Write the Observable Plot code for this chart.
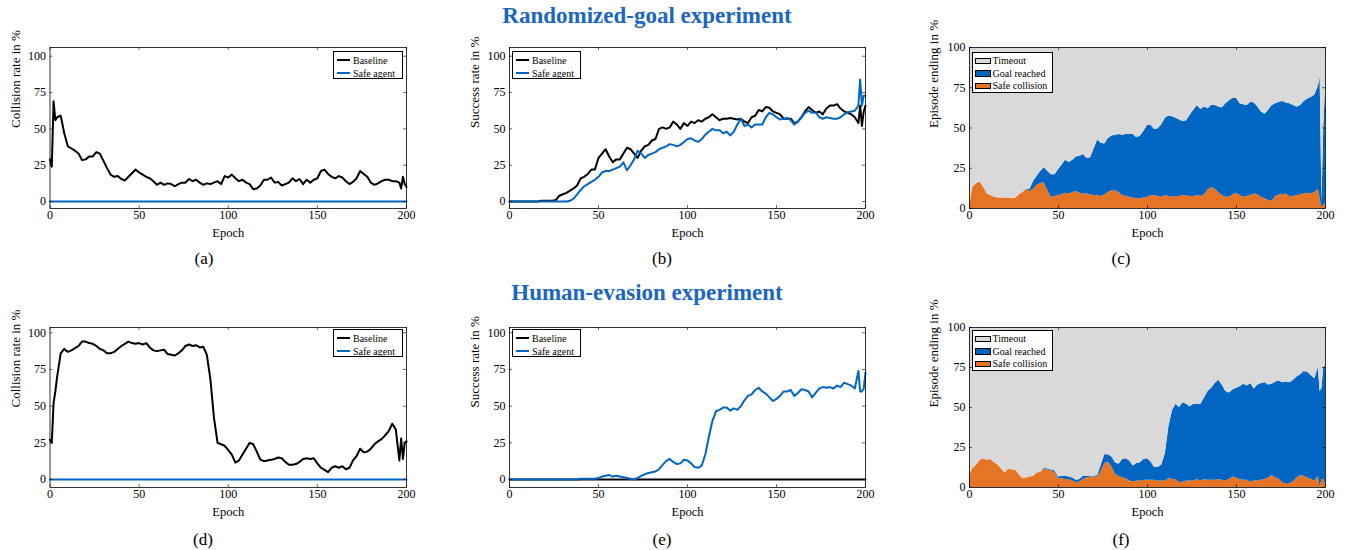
<!DOCTYPE html>
<html><head><meta charset="utf-8">
<script src="https://cdn.jsdelivr.net/npm/d3@7"></script>
<script src="https://cdn.jsdelivr.net/npm/@observablehq/plot@0.6"></script>
<style>
body{margin:0;background:#fff;}
#root{position:relative;width:1346px;height:550px;font-family:"Liberation Serif","Times New Roman",serif;color:#000;overflow:hidden;}
.title{position:absolute;font-weight:bold;color:#1a66c0;font-size:23px;transform:translate(-50%,-50%);white-space:nowrap;}
.cap{position:absolute;font-size:17px;transform:translate(-50%,-50%);white-space:nowrap;}
.pl{position:absolute;}
.lg{position:absolute;border:0.8px solid #000;background:#fff;box-sizing:border-box;padding:1.5px 0 0 3px;font-size:10px;}
.row{height:13px;display:flex;align-items:center;white-space:nowrap;}
.ln{display:inline-block;width:13px;height:2px;margin-right:3px;}
.sw{display:inline-block;width:14px;height:4.5px;border:0.7px solid #000;margin-right:2px;}
.lg.area{padding:1.5px 0 0 1.5px;}
.lg.area .row{height:12.5px;}
</style>
</head><body><div id="root"></div>
<script>
// ---------- data ----------
const epochs = [0,1,2,3,4,
  6,8,10,12,14,16,18,20,22,24,
  26,28,30,32,34,36,38,40,42,44,
  46,48,50,52,54,56,58,60,62,64,
  66,68,70,72,74,76,78,80,82,84,
  86,88,90,92,94,96,98,100,102,104,
  106,108,110,112,114,116,118,120,122,124,
  126,128,130,132,134,136,138,140,142,144,
  146,148,150,152,154,156,158,160,162,164,
  166,168,170,172,174,176,178,180,182,184,
  186,188,190,192,194,196,
  197,198,199,200];

// constant series (safe agent collisions, baseline success in human-evasion)
const flatEpochs = [0, 200];
const safeCollisionA = [0, 0];
const safeCollisionD = [0, 0];
const baselineSuccessE = [0, 0];

// (a) Randomized-goal: baseline collision rate
const baselineCollisionA = [29,24,69,56,58,
  59,47,38,36.5,35,33,28.5,29,31,31,
  34,33,28,23,18.5,17,17.5,15.5,14.5,17,
  19.5,22,20,18.5,17,16,14,11.5,13,11.5,
  12.5,12,10.5,12,13,13,15.5,14,15,13,
  11.5,12.5,12,13,14,12,17.5,16.5,18.5,16,
  14,15,13,12,8.5,9,11,15,15,16.5,
  13,13.5,11,12,13,16,14,15.5,12,15,
  13,15,16,21,22,19,17,16,17.5,16.5,
  14,12,13.5,16,21,19,17,13,11.5,12.5,
  14,15,15,14,14,13,
  9,17,12,10];

// (b) Randomized-goal: success rates
const baselineSuccessB = [0,0,0,0,0,
  0,0,0,0,0,0,0.5,0.5,0.5,0.5,
  1,4,5,6,7.5,9,11,16,17,19,
  22,22,30,33,36,31,27,29,29,33,
  37,36,33,30,35,38,39,42,43,50,
  51,50,51,55,53,50,54,52,55,54,
  56,55,57,58,60,58,56,57,57,57.5,
  57,56.5,57,55,54,58,59,63,62,65,
  64.5,62,61,60,57,57,57,54,55,58,
  62,65,63,61,62,60,64,66,66,67,
  64,62,61,60,58,54,
  66,52,62,66];
const safeSuccessB = [0,0,0,0,0,
  0,0,0,0,0,0,0,0,0,0,
  0,0,0,0,0.5,2,5,8,10.5,12,
  13.5,15,17,20,21,21,22,23,24,27,
  21.5,25,29,35,33,30,32,33,34,36,
  37,38,39.5,39,38,39,41,43,43.5,42,
  41,43,46,48,50,49,49,47,48,45.5,
  48,53,57,52,53,51,53,53,53,58,
  61,60,58,56.5,57,57.5,56,53,55,58,
  61,62.5,61,61.5,58,57,58,57.5,57,57,
  58,60,61.5,62,62.5,66,
  84,66,73,73];

// (c) Randomized-goal: episode endings of the safe agent
const safeCollisionC = [0,8,13.5,14.5,15.5,
  16.5,13,9,8,7,6.5,6.5,6.5,6.5,6,
  6.5,8.5,10,12,10.5,12,14.5,15.5,16,11,
  7,7.5,8,8.5,9.5,9,10,10.5,9.5,9,
  9,8.5,8,8,7.5,8.5,10,11,11,10,
  8,7.5,7,6.5,6,6,6.5,7,8,8,
  7.5,7,8,7.5,7,7.5,7.5,8,8,7.5,
  7.5,8,7.5,8.5,11.5,13,12,10,8,7,
  7,8.5,9.5,8,7,7.5,8,9,8.5,7,
  6,5,4.5,7.5,8.5,8.5,9,7.5,7.5,8,
  8.5,9,9.5,9,10,12,
  6,0.5,2,3];
// upper edge of "Goal reached" (collision + goal reached)
const collisionPlusGoalC = [0,8,13.5,14.5,15.5,
  16.5,13,9,8,7,6.5,6.5,6.5,6.5,6,
  6.5,8.5,10,12,12,17,20,23,25.5,23,
  21,21,24,27,30,28.5,30,32,32.5,33.5,
  31,31.5,37,42.5,40.5,40,43.5,45,45.5,46,
  45.5,46,46,46,44,45,48,51.5,51.5,49,
  49.5,52,56,57.5,57,56,55,54,54.5,58,
  61,64,61.5,63,62,64,64,63,62.5,65,
  67,68.5,68.5,65,64.5,64,66,65.5,63,60,
  58.5,61,64,65,66,66.5,65.5,65,64,63,
  64,66.5,68,69,70.5,76,
  82,4,50,75];

// (d) Human-evasion: baseline collision rate
const baselineCollisionD = [27,25,52,60,70,
  86,89,87,88,89.5,91,94,94,93,92.5,
  91,89,88,86,86,87,89,91,92.5,94,
  93,92.5,93,92,93,90,88,87.5,88,88.5,
  85.5,85,84.5,86,88,91,92,91,91.5,90,
  90.5,85,68,42,25,24,23,20,17,11.5,
  13,17,21,25,24,19,13.5,12.5,13,13.5,
  14,15,14.5,12,10,10,10.5,12,14,14.5,
  14,14.5,11,8,6.5,5,8,9,8,9,
  7,8,13,16,21,18.5,19,21,24,26,
  27.5,30,33,38,34,13,
  28,14,25,26];

// (e) Human-evasion: safe agent success rate
const safeSuccessE = [0,0,0,0,0,
  0,0,0,0,0,0,0,0,0,0,
  0,0,0,0,0,0,0,0.5,0.5,0.5,
  0.5,0.5,1,2,2.5,3,2,2.5,2,1.5,
  1,0.5,0,1,2.5,3.5,4.5,5,5.5,7,
  10,12.5,14,12,10.5,11,13.5,13,11,8.5,
  8,9.5,17,29,40,46.5,47.5,49,49,47,
  48.5,47.5,50,54,57,58,61,62.5,60,58.5,
  56,53.5,55,57,60,60,61,57,59,61.5,
  61,60,56,59,62,63,62.5,63,62,64,
  63,66,65,64,62,74,
  60,60,62,73];

// (f) Human-evasion: episode endings of the safe agent
const safeCollisionF = [7,10,12,13,14,
  17,18,17,17.5,15.5,14,11.5,9,11.5,11,
  11,8,5.5,6,6.5,7,9,9.5,11.5,11,
  10.5,9.5,5.5,5.5,5,5,4,3,3.5,5,
  6,6.5,6.5,6.5,10,15,16,13,8.5,7,
  6,5.5,4,3.5,4,4,4.5,4.5,4.5,4.5,
  4,4,4,5.5,5,5,3,3.5,4,4,
  4,5,4,5,4.5,4.5,4.5,5,4.5,4,
  5,6.5,6,5,4.5,4.5,3.5,4,4,4.5,
  5,6,7.5,6,5,3,2,2.5,3.5,6,
  7.5,7,6,5,4,7,
  0,5,5,2];
const collisionPlusGoalF = [7,10,12,13,14,
  17,18,17,17.5,15.5,14,11.5,9,11.5,11,
  11,8,5.5,6,6.5,7,9,9.5,12,11.5,
  11,10.5,6.5,7,7,6.5,6,4.5,5,7,
  7,7,7,7.5,14,20.5,20.5,19,15.5,14.5,
  17.5,18,16.5,13.5,15,15.5,17.5,18,16,12.5,
  12.5,14,21,38,48,52,50,53,52,50.5,
  52,52,52,56,60,62,65,67,64,60,
  59,61,62,63,64.5,63.5,65,61.5,64,65,
  65.5,64,64.5,66,66.5,65.5,66,65.5,67,69,
  70.5,72.5,72,70,68,75,
  60,62,75,76];

const xTicks = [0, 50, 100, 150, 200];
const yTicks = [0, 25, 50, 75, 100];
const endingKinds = ["Safe collision", "Goal reached", "Timeout"];

// ---------- styling ----------
const BLACK = "#000000", BLUE = "#0066c2", ORANGE = "#e67425", GRAY = "#d9d9d9";
const W = 426, H = 200;
const root = document.getElementById("root");

function series(xs, ys) { return xs.map((e, i) => ({epoch: e, value: ys[i]})); }

function decor(innerW, innerH, yLabel, yLabelDx) {
  const tk = {stroke: "#000", strokeWidth: 0.6};
  return [
    Plot.tickX(xTicks, {x: d => d, insetTop: innerH - 3, ...tk}),
    Plot.tickX(xTicks, {x: d => d, insetBottom: innerH - 3, ...tk}),
    Plot.tickY(yTicks, {y: d => d, insetRight: innerW - 3, ...tk}),
    Plot.tickY(yTicks, {y: d => d, insetLeft: innerW - 3, ...tk}),
    Plot.axisX({ticks: xTicks, tickSize: 0, tickPadding: 2, label: null, fontSize: 12}),
    Plot.axisY({ticks: yTicks, tickSize: 0, tickPadding: 4, label: null, fontSize: 12}),
    Plot.text(["Epoch"], {text: d => d, frameAnchor: "bottom", dy: 24, lineAnchor: "middle", fontSize: 12.5}),
    Plot.text([yLabel], {text: d => d, frameAnchor: "left", dx: yLabelDx, rotate: -90, lineAnchor: "middle", fontSize: 13}),
    Plot.frame({stroke: "#000", strokeWidth: 0.8})
  ];
}

function place(svg, left, top) {
  const d = document.createElement("div");
  d.className = "pl";
  d.style.left = left + "px"; d.style.top = top + "px"; d.style.width = W + "px";
  d.appendChild(svg);
  root.appendChild(d);
}

function linePanel({left, top, mL, mR, mT, mB, yDomain, yLabel, yLabelDx, lines}) {
  const innerW = W - mL - mR, innerH = H - mT - mB;
  const svg = Plot.plot({
    width: W, height: H, marginLeft: mL, marginRight: mR, marginTop: mT, marginBottom: mB,
    x: {domain: [0, 200]}, y: {domain: yDomain},
    style: {fontFamily: '"Liberation Serif", "Times New Roman", serif', fontSize: "12px", color: "#000", background: "transparent", overflow: "visible"},
    marks: [
      ...lines.map(l => Plot.line(series(l.x, l.y), {x: "epoch", y: "value", stroke: l.color, strokeWidth: 2, strokeLinejoin: "round"})),
      ...decor(innerW, innerH, yLabel, yLabelDx)
    ]
  });
  place(svg, left, top);
}

function areaPanel({left, top, mL, mR, mT, mB, yLabel, yLabelDx, collision, upper}) {
  const innerW = W - mL - mR, innerH = H - mT - mB;
  const rows = [];
  epochs.forEach((e, i) => {
    const c = collision[i], u = Math.max(upper[i], c);
    rows.push({epoch: e, kind: "Safe collision", value: c});
    rows.push({epoch: e, kind: "Goal reached", value: u - c});
    rows.push({epoch: e, kind: "Timeout", value: 100 - u});
  });
  const svg = Plot.plot({
    width: W, height: H, marginLeft: mL, marginRight: mR, marginTop: mT, marginBottom: mB,
    x: {domain: [0, 200]}, y: {domain: [0, 100]},
    color: {domain: endingKinds, range: [ORANGE, BLUE, GRAY]},
    style: {fontFamily: '"Liberation Serif", "Times New Roman", serif', fontSize: "12px", color: "#000", background: "transparent", overflow: "visible"},
    marks: [
      Plot.areaY(rows, {x: "epoch", y: "value", fill: "kind", order: endingKinds}),
      ...decor(innerW, innerH, yLabel, yLabelDx)
    ]
  });
  place(svg, left, top);
}

function lineLegend(left, top, w, h) {
  const d = document.createElement("div");
  d.className = "lg";
  Object.assign(d.style, {left: left + "px", top: top + "px", width: w + "px", height: h + "px"});
  [["Baseline", BLACK], ["Safe agent", BLUE]].forEach(([t, c]) => {
    const r = document.createElement("div"); r.className = "row";
    const s = document.createElement("span"); s.className = "ln"; s.style.background = c;
    r.appendChild(s); r.appendChild(document.createTextNode(t)); d.appendChild(r);
  });
  root.appendChild(d);
}
function areaLegend(left, top, w, h) {
  const d = document.createElement("div");
  d.className = "lg area";
  Object.assign(d.style, {left: left + "px", top: top + "px", width: w + "px", height: h + "px"});
  [["Timeout", GRAY], ["Goal reached", BLUE], ["Safe collision", ORANGE]].forEach(([t, c]) => {
    const r = document.createElement("div"); r.className = "row";
    const s = document.createElement("span"); s.className = "sw"; s.style.background = c;
    r.appendChild(s); r.appendChild(document.createTextNode(t)); d.appendChild(r);
  });
  root.appendChild(d);
}
function label(cls, text, x, y) {
  const d = document.createElement("div"); d.className = cls; d.textContent = text;
  d.style.left = x + "px"; d.style.top = y + "px"; root.appendChild(d);
}

// ---------- layout ----------
const upYDomain = [-4.8, 106], loYDomain = [-5.45, 103.6];
const U = {top: 40, mT: 7, mB: 32}, L = {top: 320, mT: 7, mB: 33};
const colA = {left: 0, mL: 49.5, mR: 20}, colB = {left: 460, mL: 49, mR: 21}, colC = {left: 920, mL: 49, mR: 21};

linePanel({...colA, ...U, yDomain: upYDomain, yLabel: "Collision rate in %", yLabelDx: -34.5,
  lines: [{x: epochs, y: baselineCollisionA, color: BLACK}, {x: flatEpochs, y: safeCollisionA, color: BLUE}]});
linePanel({...colB, ...U, yDomain: upYDomain, yLabel: "Success rate in %", yLabelDx: -35,
  lines: [{x: epochs, y: baselineSuccessB, color: BLACK}, {x: epochs, y: safeSuccessB, color: BLUE}]});
areaPanel({...colC, ...U, yLabel: "Episode ending in %", yLabelDx: -36, collision: safeCollisionC, upper: collisionPlusGoalC});

linePanel({...colA, ...L, yDomain: loYDomain, yLabel: "Collision rate in %", yLabelDx: -34.5,
  lines: [{x: epochs, y: baselineCollisionD, color: BLACK}, {x: flatEpochs, y: safeCollisionD, color: BLUE}]});
linePanel({...colB, ...L, yDomain: loYDomain, yLabel: "Success rate in %", yLabelDx: -35,
  lines: [{x: flatEpochs, y: baselineSuccessE, color: BLACK}, {x: epochs, y: safeSuccessE, color: BLUE}]});
areaPanel({...colC, ...L, yLabel: "Episode ending in %", yLabelDx: -36, collision: safeCollisionF, upper: collisionPlusGoalF});

lineLegend(333, 51, 70, 28);
lineLegend(512, 51, 69, 28);
areaLegend(972, 52, 81, 41);
lineLegend(333, 329, 70, 28);
lineLegend(512, 329, 69, 28);
areaLegend(972, 330, 81, 41);

label("title", "Randomized-goal experiment", 647, 16);
label("title", "Human-evasion experiment", 647, 293);
[["(a)", 204, 259], ["(b)", 662, 259], ["(c)", 1121, 259], ["(d)", 203, 540], ["(e)", 662, 540], ["(f)", 1121, 540]]
  .forEach(([t, x, y]) => label("cap", t, x, y));
</script>
</body></html>
